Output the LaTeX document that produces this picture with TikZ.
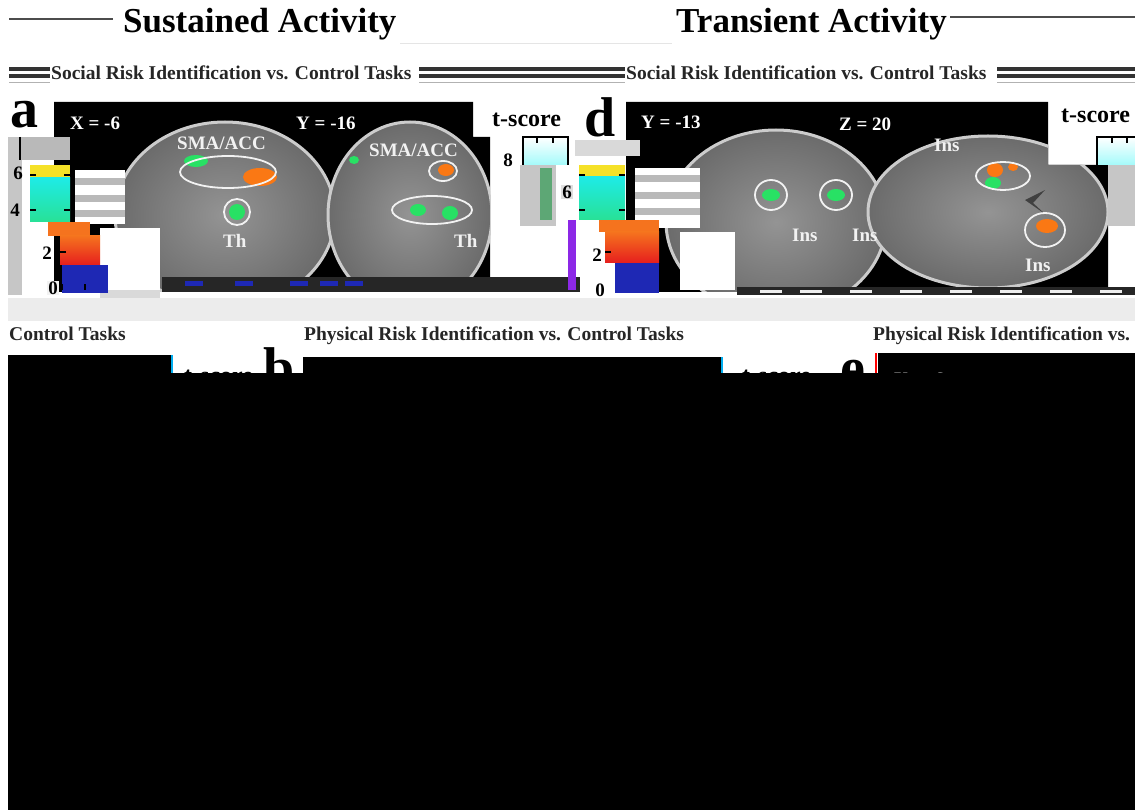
\documentclass[tikz,border=0pt]{standalone}
\usepackage{fontspec}
\setmainfont{Liberation Serif}
\definecolor{cbyel}{RGB}{245,225,40}
\definecolor{cbcyanT}{RGB}{30,235,230}
\definecolor{cbcyanB}{RGB}{40,225,150}
\definecolor{cbor}{RGB}{245,115,30}
\definecolor{cbred}{RGB}{230,30,30}
\definecolor{cbblue}{RGB}{30,40,180}
\definecolor{actg}{RGB}{40,225,100}
\definecolor{acto}{RGB}{250,120,20}
\definecolor{ltcyan}{RGB}{205,250,250}
\definecolor{purp}{RGB}{140,40,230}
\begin{document}
\begin{tikzpicture}[x=1pt,y=-1pt,
  ttl/.style={font=\bfseries\fontsize{35}{39}\selectfont, inner sep=0pt, anchor=base west},
  sub/.style={font=\bfseries\fontsize{19.5}{22}\selectfont, inner sep=0pt, anchor=base west, text=black!85},
  plab/.style={font=\bfseries\fontsize{56}{60}\selectfont, inner sep=0pt, anchor=base west},
  tsc/.style={font=\bfseries\fontsize{24}{26}\selectfont, inner sep=0pt, anchor=base west},
  crd/.style={font=\bfseries\fontsize{19}{21}\selectfont, inner sep=0pt, anchor=base west, text=white},
  roi/.style={font=\bfseries\fontsize{19}{21}\selectfont, inner sep=0pt, anchor=base west, text=gray!10},
  num/.style={font=\bfseries\fontsize{19}{21}\selectfont, inner sep=1pt},
  brain/.style={draw=black!20, line width=3pt, inner color=black!42, outer color=black!58},
  ring/.style={draw=white!90!gray, line width=1.8pt},
  tick/.style={line width=1.2pt, draw=black},
  band/.style={line width=3.5pt, draw=black!80},
]
\useasboundingbox (0,0) rectangle (1135,810);
\fill[white] (0,0) rectangle (1135,810);

% ---------- titles ----------
\draw[line width=1.5pt, black!70] (9,19) -- (113,19);
\draw[line width=0.8pt, gray!20] (400,43) -- (672,43);
\draw[line width=1.5pt, black!70] (950,17) -- (1135,17);
\node[ttl] (tsus) at (123,33) {Sustained Activity};
\node[ttl] (ttra) at (676,33) {Transient Activity};

% ---------- subtitles ----------
\foreach \xa/\xb in {9/50, 419/625, 997/1135}{
  \draw[band] (\xa,69) -- (\xb,69);
  \draw[band] (\xa,76) -- (\xb,76);
  \draw[line width=1pt, gray!60] (\xa,83) -- (\xb,83);
}
\node[sub] (ssoc1) at (51,80) {Social Risk Identification vs. Control Tasks};
\node[sub] (ssoc2) at (626,80) {Social Risk Identification vs. Control Tasks};

% ---------- panel a ----------
\fill[black] (54,102) -- (473,102) -- (473,137) -- (490,137) -- (490,292) -- (54,292) -- cycle;
\begin{scope}
  \clip (54,102) -- (473,102) -- (473,137) -- (490,137) -- (490,292) -- (54,292) -- cycle;
  \draw[brain] (225,215) ellipse [x radius=110, y radius=93];
  \draw[brain] (410,215) ellipse [x radius=82, y radius=93];
  \fill[actg] (196,161) ellipse [x radius=12, y radius=6];
  \fill[acto] (260,177) ellipse [x radius=17, y radius=9];
  \fill[actg] (237,212) circle (8);
  \fill[actg] (354,160) ellipse [x radius=5, y radius=4];
  \fill[acto] (446,170) ellipse [x radius=8, y radius=6];
  \fill[actg] (418,210) ellipse [x radius=8, y radius=6];
  \fill[actg] (450,213) ellipse [x radius=8, y radius=7];
  \draw[ring] (228,172) ellipse [x radius=48, y radius=16];
  \draw[ring] (237,212) circle (13);
  \draw[ring] (443,171) ellipse [x radius=14, y radius=10];
  \draw[ring] (432,210) ellipse [x radius=40, y radius=14];
\end{scope}
\fill[black!85] (162,277) rectangle (580,292);
\foreach \xx in {185,235,290,320,345} \fill[cbblue] (\xx,281) rectangle ++(18,5);
\node[crd] (xa) at (70,130) {X = -6};
\node[crd] (ya) at (296,130) {Y = -16};
\node[roi] (sma1) at (177,150) {SMA/ACC};
\node[roi] (sma2) at (369,157) {SMA/ACC};
\node[roi] (th1) at (223,248) {Th};
\node[roi] (th2) at (454,248) {Th};
\node[plab] (la) at (10,128) {a};

% left corruption blocks + colour bar (a)
\fill[gray!45] (8,137) rectangle (22,295);
\fill[gray!55] (20,137) rectangle (70,160);
\draw[line width=1.5pt, black] (20,137) -- (20,160);
\fill[white] (75,170) rectangle (125,224);
\foreach \yy in {178,195,210} \fill[gray!55] (75,\yy) rectangle (125,\yy+7);
\fill[white] (100,228) rectangle (160,290);
\fill[gray!30] (100,290) rectangle (160,298);
\fill[cbyel] (30,165) rectangle (70,178);
\shade[top color=cbcyanT, bottom color=cbcyanB] (30,178) rectangle (70,222);
\fill[cbor] (48,222) rectangle (90,236);
\shade[top color=cbor, bottom color=cbred] (60,236) rectangle (100,265);
\fill[cbblue] (62,265) rectangle (108,293);
\foreach \yy in {175,210} {\draw[tick] (30,\yy) -- (36,\yy); \draw[tick] (64,\yy) -- (70,\yy);}
\draw[tick] (60,252) -- (66,252);
\draw[tick] (62,290) -- (62,284); \draw[tick] (85,290) -- (85,284);
\node[num] (n6a) at (18,173) {6};
\node[num] (n4a) at (15,210) {4};
\node[num, fill=white] (n2a) at (47,253) {2};
\node[num, fill=white!90!gray] (n0a) at (53,288) {0};

% t-score bar (a)
\node[tsc] (tsa) at (492,127) {t-score};
\shade[top color=white, bottom color=ltcyan!80!cyan] (523,137) rectangle (568,165);
\draw[line width=1.5pt] (523,165) -- (523,137) -- (568,137) -- (568,165);
\draw[tick] (537,137) -- (537,143); \draw[tick] (553,137) -- (553,143);
\fill[gray!45] (520,165) rectangle (556,226);
\fill[actg!40!gray] (540,168) rectangle (552,220);
\node[num] (n8a) at (508,160) {8};
\node[num, fill=gray!25] (n6b) at (567,192) {6};

% ---------- panel d ----------
\fill[black] (626,102) -- (1048,102) -- (1048,165) -- (1108,165) -- (1108,292) -- (626,292) -- cycle;
\begin{scope}
  \clip (626,102) -- (1048,102) -- (1048,165) -- (1108,165) -- (1108,292) -- (626,292) -- cycle;
  \draw[brain] (776,222) ellipse [x radius=110, y radius=92];
  \draw[brain] (988,212) ellipse [x radius=120, y radius=76];
  \fill[black!75] (1025,200) -- (1045,190) -- (1033,203) -- (1045,214) -- cycle;
  \fill[actg] (771,195) ellipse [x radius=9, y radius=6];
  \fill[actg] (836,195) ellipse [x radius=9, y radius=6];
  \fill[acto] (995,170) ellipse [x radius=8, y radius=7];
  \fill[acto] (1013,167) ellipse [x radius=5, y radius=4];
  \fill[actg] (993,183) ellipse [x radius=8, y radius=6];
  \fill[acto] (1047,226) ellipse [x radius=11, y radius=7];
  \draw[ring] (771,195) ellipse [x radius=16, y radius=15];
  \draw[ring] (836,195) ellipse [x radius=16, y radius=15];
  \draw[ring] (1003,176) ellipse [x radius=27, y radius=14];
  \draw[ring] (1045,230) ellipse [x radius=20, y radius=17];
\end{scope}
\fill[black!85] (737,287) rectangle (1135,295);
\foreach \xx in {760,800,850,900,950,1000,1050,1100} \fill[white!85!gray] (\xx,290) rectangle ++(22,3);
\node[crd] (yd) at (641,129) {Y = -13};
\node[crd] (zd) at (839,131) {Z = 20};
\node[roi] (ins1) at (934,152) {Ins};
\node[roi] (ins2) at (792,242) {Ins};
\node[roi] (ins3) at (852,242) {Ins};
\node[roi] (ins4) at (1025,272) {Ins};
\node[plab] (ld) at (584,137) {d};

% left corruption blocks + colour bar (d)
\fill[gray!30] (575,140) rectangle (640,156);
\fill[white] (635,168) rectangle (700,228);
\foreach \yy in {175,192,208} \fill[gray!55] (635,\yy) rectangle (700,\yy+7);
\fill[white] (680,232) rectangle (735,290);
\fill[purp] (568,220) rectangle (576,290);
\fill[cbyel] (579,165) rectangle (625,177);
\shade[top color=cbcyanT, bottom color=cbcyanB] (579,177) rectangle (625,220);
\fill[cbor] (599,220) rectangle (659,232);
\shade[top color=cbor, bottom color=cbred] (605,232) rectangle (659,263);
\fill[cbblue] (615,263) rectangle (659,293);
\foreach \yy in {175,210} {\draw[tick] (579,\yy) -- (585,\yy); \draw[tick] (619,\yy) -- (625,\yy);}
\draw[tick] (605,252) -- (611,252);
\node[num, fill=white] (n2d) at (597,255) {2};
\node[num, fill=white] (n0d) at (600,290) {0};

% t-score bar (d)
\node[tsc] (tsd) at (1061,123) {t-score};
\shade[top color=white, bottom color=ltcyan!80!cyan] (1097,137) rectangle (1135,165);
\draw[line width=1.5pt] (1097,165) -- (1097,137) -- (1135,137);
\draw[tick] (1112,137) -- (1112,143); \draw[tick] (1127,137) -- (1127,143);
\fill[gray!45] (1108,165) rectangle (1135,226);

% ---------- grey band ----------
\fill[gray!15] (8,298) rectangle (1135,321);

% ---------- second row headings ----------
\node[sub] (ctl) at (9,341) {Control Tasks};
\node[sub] (phy1) at (304,341) {Physical Risk Identification vs. Control Tasks};
\node[sub] (phy2) at (873,341) {Physical Risk Identification vs.};

% ---------- lower panels (hidden) ----------
\node[tsc] (tsb) at (184,383) {t-score};
\node[plab] (lb) at (263,386) {b};
\node[tsc] (tse) at (742,383) {t-score};
\node[plab] (le) at (840,386) {e};
\fill[black] (8,355) rectangle (172,373);
\draw[line width=1.5pt, cyan] (172,355) -- (172,373);
\fill[black] (303,357) rectangle (722,373);
\draw[line width=1.5pt, cyan] (722,357) -- (722,373);
\fill[black] (878,353) rectangle (1135,373);
\draw[line width=1.5pt, red] (876,353) -- (876,373);
\node[crd, text=gray!40] (ye) at (894,385) {Y = -6};
\fill[black] (8,373) rectangle (1135,810);
\end{tikzpicture}
\end{document}
